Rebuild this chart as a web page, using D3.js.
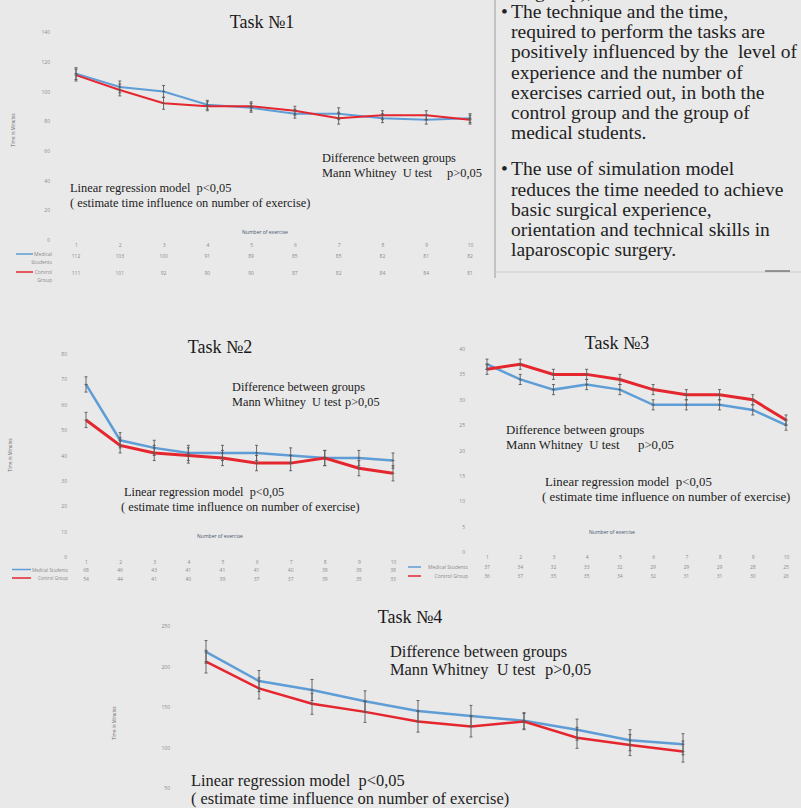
<!DOCTYPE html>
<html><head><meta charset="utf-8">
<script src="https://cdn.jsdelivr.net/npm/d3@7"></script>
<style>
body{margin:0;background:#e9e9e9}
svg{display:block}
text{white-space:pre}
</style>
</head><body>
<svg id="chart" width="801" height="808"></svg>
<script>
// ---------- DATA ----------
const exercises = [1, 2, 3, 4, 5, 6, 7, 8, 9, 10];
const seriesNames = ["Medical Students", "Control Group"];

const task1Medical = [112, 103, 100, 91, 89, 85, 85, 82, 81, 82];
const task1Control = [111, 101, 92, 90, 90, 87, 82, 84, 84, 81];
const task1Error   = [4, 4, 4, 3, 3, 3, 4, 3, 3, 3];
const task1YTicks  = [0, 20, 40, 60, 80, 100, 120, 140];

const task2Medical = [68, 46, 43, 41, 41, 41, 40, 39, 39, 38];
const task2Control = [54, 44, 41, 40, 39, 37, 37, 39, 35, 33];
const task2Error   = [3, 3, 3, 3, 3, 3, 3, 3, 3, 3];
const task2YTicks  = [0, 10, 20, 30, 40, 50, 60, 70, 80];

const task3Medical = [37, 34, 32, 33, 32, 29, 29, 29, 28, 25];
const task3Control = [36, 37, 35, 35, 34, 32, 31, 31, 30, 26];
const task3Error   = [1, 1, 1, 1, 1, 1, 1, 1, 1, 1];
const task3YTicks  = [0, 5, 10, 15, 20, 25, 30, 35, 40];

const task4Medical = [218, 182, 171, 157, 145, 139, 133, 122, 109, 104];
const task4Control = [206, 173, 154, 144, 132, 126, 132, 112, 103, 95];
const task4Error   = [14, 13, 13, 13, 13, 13, 10, 13, 13, 13];
const task4YTicks  = [50, 100, 150, 200, 250];

const annDiff = ["Difference between groups", "Mann Whitney  U test", "p>0,05"];
const annReg  = ["Linear regression model  p<0,05", "( estimate time influence on number of exercise)"];

const bulletText = [
  ["The technique and the time,", "required to perform the tasks are", "positively influenced by the  level of",
   "experience and the number of", "exercises carried out, in both the", "control group and the group of", "medical students."],
  ["The use of simulation model", "reduces the time needed to achieve", "basic surgical experience,",
   "orientation and technical skills in", "laparoscopic surgery."]
];

// ---------- STYLE ----------
const BLUE = "#5e9dd6", RED = "#e5262e";
const SERIF = "'Liberation Serif','Times New Roman',serif";
const SANS = "'Open Sans','Liberation Sans',sans-serif";
const SMALL = 5;
const svg = d3.select("#chart");
svg.append("rect").attr("width", 801).attr("height", 808).attr("fill", "#e9e9e9");

function drawTask(cfg) {
  const g = svg.append("g");
  const x = d3.scaleLinear().domain([1, 10]).range(cfg.xRange);
  const y = d3.scaleLinear().domain(cfg.yDomain).range(cfg.yRange);

  // y tick labels
  const ya = g.append("g").attr("transform", `translate(${cfg.yLabelX},0)`)
    .call(d3.axisLeft(y).tickValues(cfg.yTicks).tickSize(0).tickPadding(0));
  ya.select(".domain").remove();
  ya.selectAll("text").attr("font-family", SANS).attr("font-size", SMALL).attr("fill", "#8a8a8a");

  // y title
  if (cfg.yTitle) {
    g.append("text").attr("transform", `translate(${cfg.yTitle[0]},${cfg.yTitle[1]}) rotate(-90)`)
      .attr("text-anchor", "middle").attr("font-family", SANS).attr("font-size", 4.5).attr("fill", "#666")
      .text("Time in Minutes");
  }
  // x title
  if (cfg.xTitle) {
    g.append("text").attr("x", cfg.xTitle[0]).attr("y", cfg.xTitle[1]).attr("text-anchor", "middle")
      .attr("font-family", SANS).attr("font-size", SMALL).attr("fill", "#44546a").text("Number of exercise");
  }

  // data table
  if (cfg.tableY) {
    const xa = g.append("g").attr("transform", `translate(0,${cfg.tableY[0]})`)
      .call(d3.axisBottom(x).tickValues(exercises).tickFormat(d3.format("d")).tickSize(0).tickPadding(0));
    xa.select(".domain").remove();
    xa.selectAll("text").attr("font-family", SANS).attr("font-size", SMALL).attr("fill", "#8a8a8a");
    [cfg.medical, cfg.control].forEach((vals, k) => {
      g.append("g").selectAll("text").data(vals).join("text")
        .attr("x", (d, i) => x(exercises[i])).attr("y", cfg.tableY[k + 1] + 2)
        .attr("text-anchor", "middle").attr("font-family", SANS).attr("font-size", SMALL).attr("fill", "#8a8a8a")
        .text(d => d);
    });
  }

  // legend
  if (cfg.legend) {
    const L = cfg.legend;
    [BLUE, RED].forEach((c, k) => {
      g.append("line").attr("x1", L.x1).attr("x2", L.x2).attr("y1", L.ys[k]).attr("y2", L.ys[k])
        .attr("stroke", c).attr("stroke-width", 1.5);
      const lines = L.lines[k];
      lines.forEach((t, j) => {
        g.append("text").attr("x", L.textX).attr("y", L.ys[k] + 2 + j * 7.5).attr("text-anchor", "end")
          .attr("font-family", SANS).attr("font-size", L.size).attr("fill", "#8a8a8a").text(t);
      });
    });
  }

  // lines
  const line = d3.line().x((d, i) => x(exercises[i])).y(d => y(d));
  g.append("path").datum(cfg.medical).attr("d", line).attr("fill", "none").attr("stroke", BLUE).attr("stroke-width", cfg.lw[0]);
  g.append("path").datum(cfg.control).attr("d", line).attr("fill", "none").attr("stroke", RED).attr("stroke-width", cfg.lw[1]);

  // error bars
  [cfg.medical, cfg.control].forEach(vals => {
    const eb = g.append("g").attr("stroke", "#5a5a5a").attr("stroke-width", 0.9);
    vals.forEach((v, i) => {
      const cx = x(exercises[i]), e = cfg.err[i];
      eb.append("line").attr("x1", cx).attr("x2", cx).attr("y1", y(v - e)).attr("y2", y(v + e));
      eb.append("line").attr("x1", cx - 1.5).attr("x2", cx + 1.5).attr("y1", y(v - e)).attr("y2", y(v - e));
      eb.append("line").attr("x1", cx - 1.5).attr("x2", cx + 1.5).attr("y1", y(v + e)).attr("y2", y(v + e));
      eb.append("line").attr("x1", cx - 1.5).attr("x2", cx + 1.5).attr("y1", y(v)).attr("y2", y(v));
    });
  });

  // title
  g.append("text").attr("x", cfg.title[0]).attr("y", cfg.title[1]).attr("text-anchor", "middle")
    .attr("font-family", SERIF).attr("font-size", 18).attr("fill", "#1a1a1a").text(cfg.titleText);

  // annotations
  const fs = cfg.annSize, lh = cfg.annLH;
  const d = cfg.diff, r = cfg.reg;
  const tx = (xx, yy, t) => g.append("text").attr("x", xx).attr("y", yy).attr("font-family", SERIF)
      .attr("font-size", fs).attr("fill", "#222").text(t);
  tx(d[0], d[1], annDiff[0]);
  tx(d[0], d[1] + lh, annDiff[1]);
  tx(d[2], d[1] + lh, annDiff[2]);
  tx(r[0], r[1], annReg[0]);
  tx(r[2], r[1] + lh, annReg[1]);
}

drawTask({
  titleText: "Task №1", title: [262, 28],
  xRange: [76, 470], yDomain: [0, 140], yRange: [240, 32], yTicks: task1YTicks, yLabelX: 50,
  medical: task1Medical, control: task1Control, err: task1Error, lw: [2, 2],
  yTitle: [15, 130], xTitle: [265, 234], tableY: [243, 256, 273],
  legend: {x1: 16, x2: 33, ys: [254, 272], textX: 52, size: SMALL, lines: [["Medical", "Students"], ["Control", "Group"]]},
  annSize: 12.4, annLH: 15, diff: [322, 162, 447], reg: [70, 192, 70]
});

drawTask({
  titleText: "Task №2", title: [220, 353],
  xRange: [86, 393], yDomain: [0, 80], yRange: [557, 354], yTicks: task2YTicks, yLabelX: 67,
  medical: task2Medical, control: task2Control, err: task2Error, lw: [2.5, 3],
  yTitle: [12, 455], xTitle: [220, 538], tableY: [560.5, 570, 578.5],
  legend: {x1: 12, x2: 31, ys: [569.5, 578], textX: 68, size: 4.5, lines: [["Medical Students"], ["Control Group"]]},
  annSize: 12.3, annLH: 14.5, diff: [232, 391, 345], reg: [124, 496, 121]
});

drawTask({
  titleText: "Task №3", title: [617, 349],
  xRange: [487, 786], yDomain: [0, 40], yRange: [552, 349], yTicks: task3YTicks, yLabelX: 465,
  medical: task3Medical, control: task3Control, err: task3Error, lw: [2.5, 3],
  yTitle: null, xTitle: [612, 534], tableY: [555, 567, 576],
  legend: {x1: 408, x2: 421, ys: [567, 576], textX: 468, size: SMALL, lines: [["Medical Students"], ["Control Group"]]},
  annSize: 12.8, annLH: 15, diff: [506, 434, 638], reg: [545, 486, 542]
});

drawTask({
  titleText: "Task №4", title: [410, 623],
  xRange: [206, 683], yDomain: [0, 250], yRange: [828.5, 626], yTicks: task4YTicks, yLabelX: 170,
  medical: task4Medical, control: task4Control, err: task4Error, lw: [2.5, 2.5],
  yTitle: [116, 723], xTitle: null, tableY: null, legend: null,
  annSize: 16.4, annLH: 17.5, diff: [390, 657, 545], reg: [191, 786, 191]
});

// ---------- right text panel ----------
const panel = svg.append("g");
panel.append("line").attr("x1", 495).attr("x2", 495).attr("y1", 0).attr("y2", 278)
  .attr("stroke", "#b4b4b4").attr("stroke-width", 1.5);
panel.append("line").attr("x1", 495).attr("x2", 801).attr("y1", 272).attr("y2", 272)
  .attr("stroke", "#cfcfcf").attr("stroke-width", 1);
panel.append("line").attr("x1", 765).attr("x2", 790).attr("y1", 271).attr("y2", 271)
  .attr("stroke", "#777").attr("stroke-width", 1.5);
panel.append("text").attr("x", 592).attr("y", -2).attr("text-anchor", "end").attr("font-family", SERIF)
  .attr("font-size", 19.5).attr("fill", "#222").text("control group),");
let by = 18;
bulletText.forEach((para, p) => {
  panel.append("text").attr("x", 501).attr("y", by).attr("font-family", SERIF).attr("font-size", 19.5)
    .attr("fill", "#222").text("•");
  para.forEach((t, j) => {
    panel.append("text").attr("x", 511).attr("y", by + j * 20.2).attr("font-family", SERIF)
      .attr("font-size", 19.5).attr("fill", "#222").text(t);
  });
  by += para.length * 20.2 + 16;
});
</script>
</body></html>
